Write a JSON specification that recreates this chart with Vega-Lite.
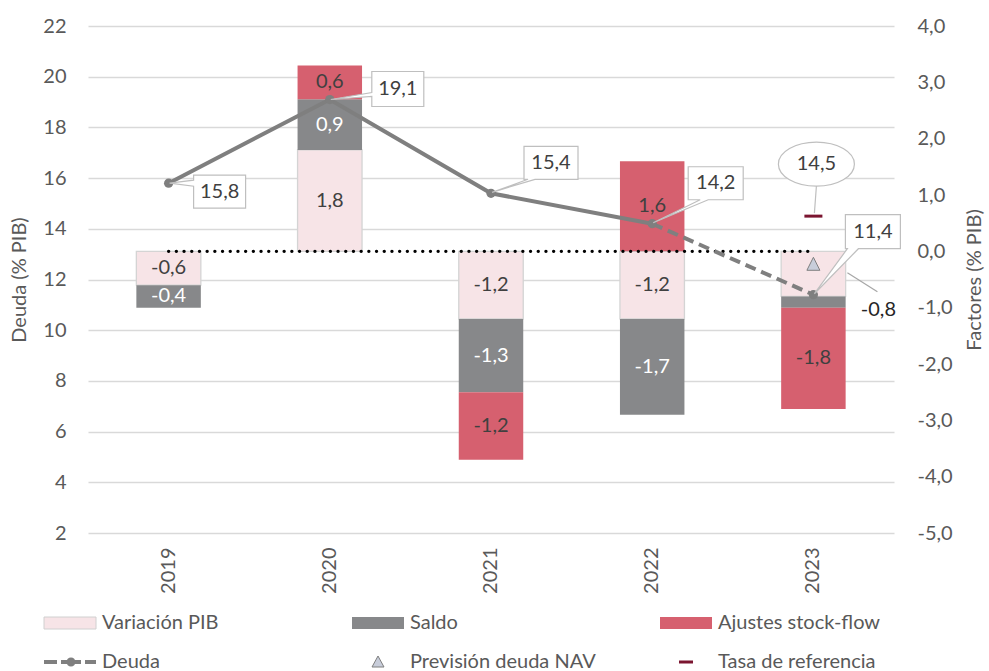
{
  "$schema": "https://vega.github.io/schema/vega-lite/v6.json",
  "width": 806,
  "height": 507,
  "autosize": {"type": "none"},
  "padding": {"left": 88, "top": 26, "right": 95, "bottom": 138},
  "background": "white",
  "config": {
    "font": "Lato",
    "view": {"stroke": null},
    "locale": {"number": {"decimal": ",", "thousands": ".", "grouping": [3], "currency": ["", " €"], "minus": "-"}},
    "axis": {"labelFont": "Lato", "labelFontSize": 20, "labelColor": "#595959", "titleFont": "Lato", "titleFontSize": 20, "titleColor": "#595959", "titleFontWeight": "normal", "domain": false, "ticks": false},
    "text": {"font": "Lato"}
  },
  "datasets": {
    "factores": [
      {"year": 2019, "serie": "Variación PIB", "valor": -0.6},
      {"year": 2019, "serie": "Saldo", "valor": -0.4},
      {"year": 2020, "serie": "Variación PIB", "valor": 1.8},
      {"year": 2020, "serie": "Saldo", "valor": 0.9},
      {"year": 2020, "serie": "Ajustes stock-flow", "valor": 0.6},
      {"year": 2021, "serie": "Variación PIB", "valor": -1.2},
      {"year": 2021, "serie": "Saldo", "valor": -1.3},
      {"year": 2021, "serie": "Ajustes stock-flow", "valor": -1.2},
      {"year": 2022, "serie": "Variación PIB", "valor": -1.2},
      {"year": 2022, "serie": "Saldo", "valor": -1.7},
      {"year": 2022, "serie": "Ajustes stock-flow", "valor": 1.6},
      {"year": 2023, "serie": "Variación PIB", "valor": -0.8},
      {"year": 2023, "serie": "Saldo", "valor": -0.2},
      {"year": 2023, "serie": "Ajustes stock-flow", "valor": -1.8}
    ],
    "deuda": [
      {"year": 2019, "valor": 15.8},
      {"year": 2020, "valor": 19.1},
      {"year": 2021, "valor": 15.4},
      {"year": 2022, "valor": 14.2},
      {"year": 2023, "valor": 11.4}
    ],
    "prevision": [{"year": 2023, "valor": 12.6}],
    "tasa": [{"year": 2023, "valor": 14.5}]
  },
  "encoding": {
    "x": {"field": "year", "type": "ordinal", "scale": {"paddingInner": 0.6, "paddingOuter": 0.3},
      "axis": {"labelAngle": -90, "title": null, "labelPadding": 14, "grid": false}}
  },
  "layer": [
    {
      "data": {"name": "factores"},
      "transform": [
        {"stack": "valor", "groupby": ["year"], "sort": [{"field": "serie", "order": "descending"}], "as": ["v0", "v1"], "offset": "zero"},
        {"calculate": "(datum.v0 + datum.v1) / 2", "as": "vmid"}
      ],
      "layer": [
        {
          "mark": {"type": "bar"},
          "encoding": {
            "y": {"field": "v0", "type": "quantitative", "scale": {"domain": [-5, 4], "nice": false, "zero": false},
              "axis": {"orient": "right", "values": [-5, -4, -3, -2, -1, 0, 1, 2, 3, 4], "format": ".1f", "grid": false, "title": "Factores (% PIB)", "titleAngle": 270, "titleBaseline": "top", "labelPadding": 23, "titlePadding": 12}},
            "y2": {"field": "v1"},
            "color": {"field": "serie", "type": "nominal",
              "scale": {"domain": ["Variación PIB", "Saldo", "Ajustes stock-flow", "Deuda", "Previsión deuda NAV", "Tasa de referencia"],
                "range": ["#F7E4E7", "#87888A", "#D6606F", "#7F7F7F", "#C8CDDA", "#7B1530"]},
              "legend": {"title": null, "orient": "none", "legendX": -54, "legendY": 587, "direction": "horizontal", "columns": 3, "gridAlign": "all", "columnPadding": 54, "rowPadding": 19, "padding": 0, "symbolSize": 4, "symbolStrokeWidth": 1, "symbolOpacity": 1, "labelFontSize": 20, "labelFont": "Lato", "labelColor": "#595959", "labelOffset": 48, "labelLimit": 400,
                "encode": {"symbols": {"update": {"stroke": {"signal": "datum.value === 'Variación PIB' ? '#d0d0d0' : (datum.value === 'Previsión deuda NAV' ? '#7f7f7f' : 'transparent')"}, "strokeWidth": {"value": 1}}}}}},
            "stroke": {"condition": {"test": "datum.serie === 'Variación PIB'", "value": "#d4d4d4"}, "value": "transparent"},
            "strokeWidth": {"value": 1.3}
          }
        },
        {
          "transform": [{"filter": "!(datum.year == 2023 && datum.serie !== 'Ajustes stock-flow')"}],
          "mark": {"type": "text", "fontSize": 20},
          "encoding": {
            "y": {"field": "vmid", "type": "quantitative", "scale": {"domain": [-5, 4], "nice": false, "zero": false},
              "axis": {"orient": "right", "values": [-5, -4, -3, -2, -1, 0, 1, 2, 3, 4], "format": ".1f", "grid": false, "title": "Factores (% PIB)", "titleAngle": 270, "titleBaseline": "top", "labelPadding": 23, "titlePadding": 12}},
            "text": {"field": "valor", "type": "quantitative", "format": ".1f"},
            "color": {"condition": {"test": "datum.serie === 'Saldo'", "value": "white"}, "value": "#404040"}
          }
        },
        {
          "data": {"name": "deuda"},
          "mark": {"type": "line", "color": "black", "strokeWidth": 3.3, "strokeDash": [0.1, 7.6], "strokeCap": "round"},
          "encoding": {
            "y": {"datum": 0, "type": "quantitative", "scale": {"domain": [-5, 4], "nice": false, "zero": false},
              "axis": {"orient": "right", "values": [-5, -4, -3, -2, -1, 0, 1, 2, 3, 4], "format": ".1f", "grid": false, "title": "Factores (% PIB)", "titleAngle": 270, "titleBaseline": "top", "labelPadding": 23, "titlePadding": 12}}
          }
        },
        {
          "transform": [{"filter": "datum.year == 2023 && datum.serie === 'Variación PIB'"}],
          "encoding": {
            "y": {"field": "vmid", "type": "quantitative", "scale": {"domain": [-5, 4], "nice": false, "zero": false},
              "axis": {"orient": "right", "values": [-5, -4, -3, -2, -1, 0, 1, 2, 3, 4], "format": ".1f", "grid": false, "title": "Factores (% PIB)", "titleAngle": 270, "titleBaseline": "top", "labelPadding": 23, "titlePadding": 12}}
          },
          "layer": [
            {"mark": {"type": "point", "shape": "M34,-1L64,18", "size": 4, "filled": false, "color": "#a6a6a6", "strokeWidth": 1.2, "opacity": 1}},
            {"mark": {"type": "text", "dx": 65, "dy": 36, "fontSize": 20, "color": "#262626"},
              "encoding": {"text": {"field": "valor", "type": "quantitative", "format": ".1f"}}}
          ]
        }
      ]
    },
    {
      "data": {"name": "deuda"},
      "encoding": {
        "y": {"field": "valor", "type": "quantitative", "scale": {"domain": [2, 22], "nice": false, "zero": false},
          "axis": {"orient": "left", "values": [2, 4, 6, 8, 10, 12, 14, 16, 18, 20, 22], "grid": true, "gridColor": "#d9d9d9", "gridWidth": 1.3, "title": "Deuda (% PIB)", "labelPadding": 22, "titlePadding": 13}}
      },
      "layer": [
        {"transform": [{"filter": "datum.year <= 2022"}], "mark": {"type": "line", "color": "#7F7F7F", "strokeWidth": 4}},
        {"transform": [{"filter": "datum.year >= 2022"}], "mark": {"type": "line", "color": "#7F7F7F", "strokeWidth": 4, "strokeDash": [11, 6]}},
        {"mark": {"type": "point", "shape": "circle", "size": 85, "filled": true, "color": "#7F7F7F", "opacity": 1}},
        {
          "transform": [{"filter": "datum.year == 2019"}],
          "layer": [
            {"mark": {"type": "point", "shape": "M1,0L25,-3V-8H77V25H25V3Z", "size": 4, "filled": true, "fill": "white", "stroke": "#bfbfbf", "strokeWidth": 1.2, "opacity": 1}},
            {"mark": {"type": "text", "dx": 51, "dy": 8.5, "fontSize": 20, "color": "#404040"}, "encoding": {"text": {"field": "valor", "type": "quantitative", "format": ".1f"}}}
          ]
        },
        {
          "transform": [{"filter": "datum.year == 2020"}],
          "layer": [
            {"mark": {"type": "point", "shape": "M1,0L42,-3V7H94V-28H42V-7Z", "size": 4, "filled": true, "fill": "white", "stroke": "#bfbfbf", "strokeWidth": 1.2, "opacity": 1}},
            {"mark": {"type": "text", "dx": 68, "dy": -10.5, "fontSize": 20, "color": "#404040"}, "encoding": {"text": {"field": "valor", "type": "quantitative", "format": ".1f"}}}
          ]
        },
        {
          "transform": [{"filter": "datum.year == 2021"}],
          "layer": [
            {"mark": {"type": "point", "shape": "M1,-1L37,-14H33V-47H87V-14H44Z", "size": 4, "filled": true, "fill": "white", "stroke": "#bfbfbf", "strokeWidth": 1.2, "opacity": 1}},
            {"mark": {"type": "text", "dx": 60, "dy": -30.5, "fontSize": 20, "color": "#404040"}, "encoding": {"text": {"field": "valor", "type": "quantitative", "format": ".1f"}}}
          ]
        },
        {
          "transform": [{"filter": "datum.year == 2022"}],
          "layer": [
            {"mark": {"type": "point", "shape": "M1,-1L48,-24H36V-57H91V-24H56Z", "size": 4, "filled": true, "fill": "white", "stroke": "#bfbfbf", "strokeWidth": 1.2, "opacity": 1}},
            {"mark": {"type": "text", "dx": 63.5, "dy": -40.5, "fontSize": 20, "color": "#404040"}, "encoding": {"text": {"field": "valor", "type": "quantitative", "format": ".1f"}}}
          ]
        },
        {
          "transform": [{"filter": "datum.year == 2023"}],
          "layer": [
            {"mark": {"type": "point", "shape": "M1,-1L34,-46H32V-80H87V-46H45Z", "size": 4, "filled": true, "fill": "white", "stroke": "#bfbfbf", "strokeWidth": 1.2, "opacity": 1}},
            {"mark": {"type": "text", "dx": 59.5, "dy": -63, "fontSize": 20, "color": "#404040"}, "encoding": {"text": {"field": "valor", "type": "quantitative", "format": ".1f"}}}
          ]
        },
        {
          "data": {"name": "prevision"},
          "mark": {"type": "point", "shape": "M0,-7L6.5,6H-6.5Z", "size": 4, "filled": true, "fill": "#C8CDDA", "stroke": "#7f7f7f", "strokeWidth": 1, "opacity": 1}
        },
        {
          "data": {"name": "tasa"},
          "layer": [
            {"mark": {"type": "point", "shape": "M-9,-1.5H9V1.5H-9Z", "size": 4, "filled": true, "fill": "#7B1530", "strokeWidth": 0, "opacity": 1}},
            {"mark": {"type": "point", "shape": "M-35,-52A38,22 0 1,1 41,-52A38,22 0 1,1 -35,-52Z M3,-30L1,-3", "size": 4, "filled": true, "fill": "white", "stroke": "#bfbfbf", "strokeWidth": 1.2, "opacity": 1}},
            {"mark": {"type": "text", "dx": 3, "dy": -52, "fontSize": 20, "color": "#404040"}, "encoding": {"text": {"field": "valor", "type": "quantitative", "format": ".1f"}}}
          ]
        },
        {
          "transform": [{"filter": "false"}],
          "mark": {"type": "point", "size": 4, "filled": true, "opacity": 1},
          "encoding": {
            "color": {"field": "serie", "type": "nominal",
              "scale": {"domain": ["Variación PIB", "Saldo", "Ajustes stock-flow", "Deuda", "Previsión deuda NAV", "Tasa de referencia"],
                "range": ["#F7E4E7", "#87888A", "#D6606F", "#7F7F7F", "#C8CDDA", "#7B1530"]},
              "legend": {"title": null, "orient": "none", "legendX": -54, "legendY": 587, "direction": "horizontal", "columns": 3, "gridAlign": "all", "columnPadding": 54, "rowPadding": 19, "padding": 0, "symbolSize": 4, "symbolStrokeWidth": 1, "symbolOpacity": 1, "labelFontSize": 20, "labelFont": "Lato", "labelColor": "#595959", "labelOffset": 48, "labelLimit": 400,
                "encode": {"symbols": {"update": {"stroke": {"signal": "datum.value === 'Variación PIB' ? '#d0d0d0' : (datum.value === 'Previsión deuda NAV' ? '#7f7f7f' : 'transparent')"}, "strokeWidth": {"value": 1}}}}}},
            "shape": {"field": "serie", "type": "nominal",
              "scale": {"domain": ["Variación PIB", "Saldo", "Ajustes stock-flow", "Deuda", "Previsión deuda NAV", "Tasa de referencia"],
                "range": ["M0,-6H52V6H0Z", "M0,-6H52V6H0Z", "M0,-6H52V6H0Z", "M0,-2H13V2H0Z M17,-2H37V2H17Z M41,-2H52V2H41Z M22.5,0A4.5,4.5 0 1,1 31.5,0A4.5,4.5 0 1,1 22.5,0Z", "M26,-6L32,5H20Z", "M19,-1.5H33V1.5H19Z"]},
              "legend": {"title": null, "orient": "none", "legendX": -54, "legendY": 587, "direction": "horizontal", "columns": 3, "gridAlign": "all", "columnPadding": 54, "rowPadding": 19, "padding": 0, "symbolSize": 4, "symbolStrokeWidth": 1, "symbolOpacity": 1, "labelFontSize": 20, "labelFont": "Lato", "labelColor": "#595959", "labelOffset": 48, "labelLimit": 400,
                "encode": {"symbols": {"update": {"stroke": {"signal": "datum.value === 'Variación PIB' ? '#d0d0d0' : (datum.value === 'Previsión deuda NAV' ? '#7f7f7f' : 'transparent')"}, "strokeWidth": {"value": 1}}}}}}
          }
        }
      ]
    }
  ],
  "resolve": {"scale": {"y": "independent"}}
}
